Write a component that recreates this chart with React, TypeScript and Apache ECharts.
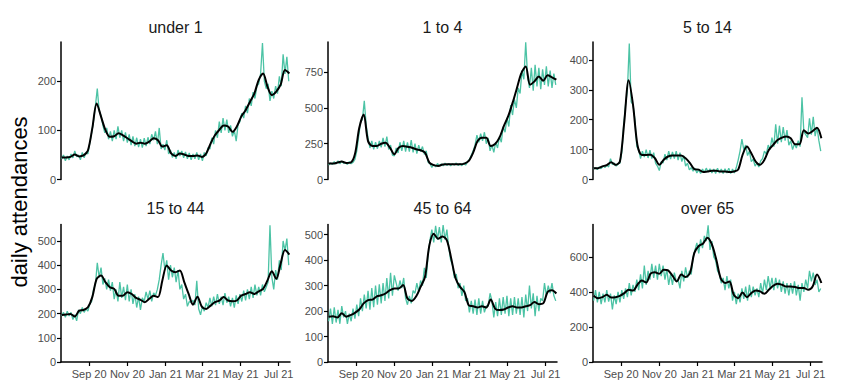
import React, { useEffect, useRef } from "react";
import * as echarts from "echarts";

// ---- data ----
const panelTitles = ["under 1", "1 to 4", "5 to 14", "15 to 44", "45 to 64", "over 65"];
const yMax = [280, 960, 460, 568, 540, 785];
const yTicks = [
  [0, 100, 200],
  [0, 250, 500, 750],
  [0, 100, 200, 300, 400],
  [0, 100, 200, 300, 400, 500],
  [0, 100, 200, 300, 400, 500],
  [0, 200, 400, 600],
];
const tickDates = ["2020-09-01", "2020-11-01", "2021-01-01", "2021-03-01", "2021-05-01", "2021-07-01"];
const tickLabels = ["Sep 20", "Nov 20", "Jan 21", "Mar 21", "May 21", "Jul 21"];
const axisStart = "2020-07-18";
const axisEnd = "2021-07-19";
const dailyStart = "2020-07-19"; // daily attendances, sampled every 3 days
const dailyStep = 3;
const smoothStart = "2020-07-19"; // 7-day rolling mean, weekly
const smoothStep = 7;

const under1Daily = [
  42, 50, 38, 48, 40, 52, 44, 58, 46, 50,
  40, 55, 44, 56, 52, 75, 95, 120, 150, 185,
  140, 130, 110, 95, 105, 82, 98, 78, 100, 82,
  108, 85, 100, 78, 96, 75, 92, 70, 88, 68,
  85, 66, 82, 65, 84, 68, 86, 72, 92, 80,
  98, 72, 105, 62, 72, 60, 80, 52, 60, 45,
  55, 42, 60, 48, 58, 44, 56, 42, 54, 40,
  52, 42, 55, 40, 52, 38, 55, 48, 65, 62,
  85, 72, 100, 85, 118, 95, 125, 100, 122, 95,
  110, 88, 100, 78, 112, 118, 135, 125, 150, 135,
  165, 150, 178, 165, 190, 195, 215, 278, 200, 185,
  195, 160, 180, 165, 190, 175, 210, 190, 255, 215,
  250, 200,
];
const under1Smooth = [
  45, 45, 46, 51, 47, 49, 59, 104, 155, 128,
  101, 87, 88, 94, 90, 84, 78, 73, 75, 73,
  77, 84, 80, 67, 70, 53, 48, 53, 51, 48,
  48, 49, 46, 53, 73, 90, 101, 110, 108, 97,
  108, 128, 141, 158, 175, 203, 216, 189, 172, 179,
  193, 223, 216,
];

const oneToFourDaily = [
  100, 115, 105, 125, 108, 130, 110, 128, 112, 120,
  105, 125, 110, 120, 140, 200, 300, 400, 420, 550,
  380, 290, 220, 270, 210, 260, 215, 270, 225, 290,
  230, 300, 210, 240, 170, 165, 220, 185, 260, 200,
  270, 195, 260, 195, 275, 190, 250, 180, 240, 195,
  230, 175, 200, 120, 110, 85, 105, 88, 112, 92,
  108, 95, 115, 98, 112, 96, 110, 100, 115, 98,
  112, 96, 115, 100, 125, 140, 170, 200, 240, 310,
  260, 320, 270, 330, 250, 290, 200, 240, 190, 260,
  220, 300, 260, 370, 330, 430, 370, 520, 450, 560,
  500, 640, 600, 760, 700, 958, 720, 640, 780, 620,
  800, 650, 780, 630, 770, 660, 790, 650, 760, 640,
  740, 660,
];
const oneToFourSmooth = [
  111, 111, 118, 125, 116, 118, 176, 361, 454, 268,
  234, 234, 250, 257, 222, 176, 222, 234, 228, 222,
  211, 204, 188, 118, 100, 95, 104, 106, 106, 106,
  106, 111, 130, 188, 268, 292, 292, 234, 248, 292,
  373, 442, 535, 639, 743, 789, 662, 685, 720, 690,
  727, 713, 697,
];

const fiveToFourteenDaily = [
  35, 40, 33, 42, 36, 45, 40, 48, 42, 70,
  50, 55, 45, 52, 55, 90, 180, 250, 300, 455,
  260, 250, 200, 110, 100, 70, 95, 75, 100, 72,
  98, 70, 90, 55, 45, 30, 60, 55, 85, 65,
  95, 68, 92, 70, 95, 65, 90, 60, 80, 45,
  55, 32, 40, 28, 38, 22, 32, 20, 35, 24,
  38, 25, 36, 22, 35, 20, 38, 22, 35, 20,
  36, 22, 38, 20, 35, 22, 40, 65, 95, 135,
  100, 115, 80, 95, 60, 68, 45, 55, 42, 62,
  70, 95, 85, 115, 100, 140, 110, 185, 120, 180,
  125, 175, 130, 165, 115, 130, 100, 120, 105, 130,
  110, 275, 160, 150, 140, 205, 150, 210, 145, 175,
  130, 95,
];
const fiveToFourteenSmooth = [
  38, 38, 44, 48, 58, 49, 60, 193, 332, 249,
  116, 82, 82, 83, 71, 49, 66, 77, 80, 80,
  80, 71, 55, 35, 33, 25, 27, 29, 29, 27,
  27, 25, 27, 33, 82, 110, 88, 60, 49, 66,
  99, 116, 132, 140, 144, 138, 118, 118, 165, 154,
  162, 173, 138,
];

const fifteenToFortyFourDaily = [
  190, 205, 185, 210, 190, 205, 175, 195, 170, 215,
  200, 225, 205, 220, 210, 240, 250, 300, 320, 410,
  350, 390, 320, 345, 300, 340, 295, 330, 260, 300,
  250, 330, 265, 310, 255, 320, 250, 300, 240, 280,
  225, 270, 215, 265, 250, 290, 260, 295, 250, 285,
  275, 300, 340, 400, 450, 380, 420, 340, 400, 350,
  390, 330, 380, 300, 320, 260, 280, 230, 250, 245,
  255, 235, 335, 220, 195, 230, 210, 245, 225, 265,
  230, 270, 235, 280, 240, 270, 235, 285, 245, 270,
  230, 265, 225, 275, 240, 280, 250, 295, 255, 300,
  260, 310, 265, 320, 275, 310, 275, 320, 290, 310,
  330, 565, 350, 300, 380, 340, 420, 380, 500, 460,
  510, 400,
];
const fifteenToFortyFourSmooth = [
  194, 196, 198, 188, 212, 215, 226, 268, 343, 357,
  330, 309, 302, 274, 274, 288, 281, 265, 257, 247,
  261, 274, 268, 337, 399, 378, 371, 378, 330, 281,
  237, 270, 229, 219, 233, 247, 254, 268, 254, 251,
  254, 274, 281, 288, 281, 292, 302, 337, 375, 343,
  406, 463, 444,
];

const fortyFiveDaily = [
  160, 210, 150, 215, 155, 205, 150, 220, 175, 200,
  150, 190, 160, 210, 170, 225, 180, 250, 200, 265,
  210, 280, 205, 290, 215, 300, 225, 305, 230, 310,
  240, 330, 250, 350, 260, 340, 310, 280, 320, 290,
  330, 250, 225, 260, 230, 280, 270, 310, 275, 320,
  300, 370, 330, 420, 480, 520, 470, 535, 480, 530,
  470, 538, 480, 520, 450, 400, 380, 330, 345, 290,
  310, 260, 300, 240, 250, 195, 240, 190, 245, 185,
  250, 190, 240, 195, 220, 220, 270, 240, 175, 235,
  180, 250, 185, 255, 190, 260, 180, 250, 185, 255,
  190, 250, 185, 255, 175, 265, 200, 300, 210, 270,
  180, 260, 200, 250, 240, 310, 260, 300, 270, 310,
  260, 240,
];
const fortyFiveSmooth = [
  178, 180, 175, 191, 178, 184, 193, 206, 230, 243,
  245, 258, 262, 269, 282, 289, 289, 302, 249, 240,
  258, 295, 334, 458, 504, 484, 493, 478, 406, 328,
  295, 275, 223, 219, 214, 219, 214, 245, 210, 204,
  206, 214, 219, 214, 214, 219, 223, 236, 227, 230,
  275, 282, 269,
];

const overSixtyFiveDaily = [
  350, 410, 340, 400, 330, 390, 340, 410, 345, 390,
  300, 380, 330, 400, 340, 410, 360, 420, 370, 450,
  380, 440, 400, 470, 410, 500, 420, 550, 440, 520,
  470, 560, 480, 550, 470, 560, 490, 550, 470, 530,
  440, 500, 440, 510, 460, 470, 420, 520, 460, 540,
  480, 520, 500, 600, 640, 680, 620, 700, 650, 720,
  690, 780, 640, 690, 600, 580, 520, 500, 450, 480,
  410, 490, 420, 470, 350, 400, 330, 390, 340, 420,
  360, 430, 350, 440, 370, 430, 380, 420, 370, 450,
  390, 470, 410, 490, 420, 480, 410, 480, 420, 470,
  400, 460, 390, 450, 380, 450, 390, 460, 380, 440,
  350, 450, 400, 470, 420, 520, 460, 510, 440, 470,
  400, 420,
];
const overSixtyFiveSmooth = [
  378, 364, 370, 384, 368, 370, 378, 393, 412, 408,
  441, 466, 454, 504, 512, 504, 527, 523, 493, 460,
  499, 485, 508, 623, 662, 677, 710, 671, 585, 479,
  451, 460, 384, 364, 397, 370, 393, 408, 403, 389,
  412, 435, 447, 441, 431, 431, 428, 422, 422, 412,
  431, 499, 451,
];

const dailySeries = [under1Daily, oneToFourDaily, fiveToFourteenDaily, fifteenToFortyFourDaily, fortyFiveDaily, overSixtyFiveDaily];
const smoothSeries = [under1Smooth, oneToFourSmooth, fiveToFourteenSmooth, fifteenToFortyFourSmooth, fortyFiveSmooth, overSixtyFiveSmooth];

// ---- helpers ----
const DAY = 86400000;
const toMs = (s: string) => Date.parse(s + "T00:00:00Z");
const toIso = (ms: number) => new Date(ms).toISOString().slice(0, 10);

function buildOption() {
  const categories: string[] = [];
  for (let t = toMs(axisStart); t <= toMs(axisEnd); t += DAY) categories.push(toIso(t));
  const labelMap: Record<string, string> = {};
  tickDates.forEach((d, i) => (labelMap[d] = tickLabels[i]));
  const isTick = (_i: number, v: string) => labelMap[v] !== undefined;

  const colLeft = [61, 328, 593];
  const gridWidth = 229;
  const rowTop = [42, 224.5];
  const rowHeight = [137.5, 137.5];
  const font = '"Liberation Sans", Arial, sans-serif';
  const axisColor = "#000";
  const labelColor = "#4d4d4d";

  const grid: any[] = [];
  const xAxis: any[] = [];
  const yAxis: any[] = [];
  const series: any[] = [];
  const graphic: any[] = [];

  panelTitles.forEach((title, idx) => {
    const col = idx % 3;
    const row = Math.floor(idx / 3);
    grid.push({ left: colLeft[col], top: rowTop[row], width: gridWidth, height: rowHeight[row] });
    const bottomRow = row === 1;
    xAxis.push({
      type: "category",
      gridIndex: idx,
      data: categories,
      boundaryGap: false,
      axisLine: { show: bottomRow, onZero: false, lineStyle: { color: axisColor, width: 1.5 } },
      axisTick: { show: bottomRow, length: 4, interval: isTick, lineStyle: { color: axisColor, width: 1.2 } },
      axisLabel: {
        show: bottomRow,
        interval: isTick,
        formatter: (v: string) => labelMap[v] || "",
        color: labelColor,
        fontSize: 11,
        fontFamily: font,
        margin: 6,
      },
      splitLine: { show: false },
    });
    yAxis.push({
      type: "value",
      gridIndex: idx,
      min: 0,
      max: yMax[idx],
      axisLine: { show: true, onZero: false, lineStyle: { color: axisColor, width: 1.5 } },
      axisTick: { show: true, length: 4, customValues: yTicks[idx], lineStyle: { color: axisColor, width: 1.2 } },
      axisLabel: {
        customValues: yTicks[idx],
        color: labelColor,
        fontSize: 11,
        fontFamily: font,
        margin: 5,
      },
      splitLine: { show: false },
    });
    const d0 = toMs(dailyStart);
    series.push({
      type: "line",
      xAxisIndex: idx,
      yAxisIndex: idx,
      data: dailySeries[idx].map((v, i) => [toIso(d0 + i * dailyStep * DAY), v]),
      symbol: "none",
      lineStyle: { color: "#4cc3a5", width: 1.3 },
      z: 2,
    });
    const s0 = toMs(smoothStart);
    series.push({
      type: "line",
      xAxisIndex: idx,
      yAxisIndex: idx,
      data: smoothSeries[idx].map((v, i) => [toIso(s0 + i * smoothStep * DAY), v]),
      symbol: "none",
      smooth: 0.3,
      lineStyle: { color: "#000", width: 2 },
      z: 3,
    });
    graphic.push({
      type: "text",
      x: colLeft[col] + gridWidth / 2,
      y: row === 0 ? 27 : 208.5,
      style: {
        text: title,
        font: `16px ${font}`,
        fill: "#1a1a1a",
        align: "center",
        verticalAlign: "middle",
      },
    });
  });

  graphic.push({
    type: "text",
    x: 19,
    y: 202,
    rotation: Math.PI / 2,
    style: {
      text: "daily attendances",
      font: `22px ${font}`,
      fill: "#000",
      align: "center",
      verticalAlign: "middle",
    },
  });

  return {
    animation: false,
    backgroundColor: "#fff",
    grid,
    xAxis,
    yAxis,
    series,
    graphic,
  };
}

export default function App() {
  const ref = useRef<HTMLDivElement>(null);
  useEffect(() => {
    if (!ref.current) return;
    const chart = echarts.init(ref.current, undefined, { renderer: "svg" });
    chart.setOption(buildOption() as any);
    return () => chart.dispose();
  }, []);
  return (
    <div
      ref={ref}
      style={{ position: "absolute", left: 0, top: 0, width: 850, height: 391, background: "#fff" }}
    />
  );
}
